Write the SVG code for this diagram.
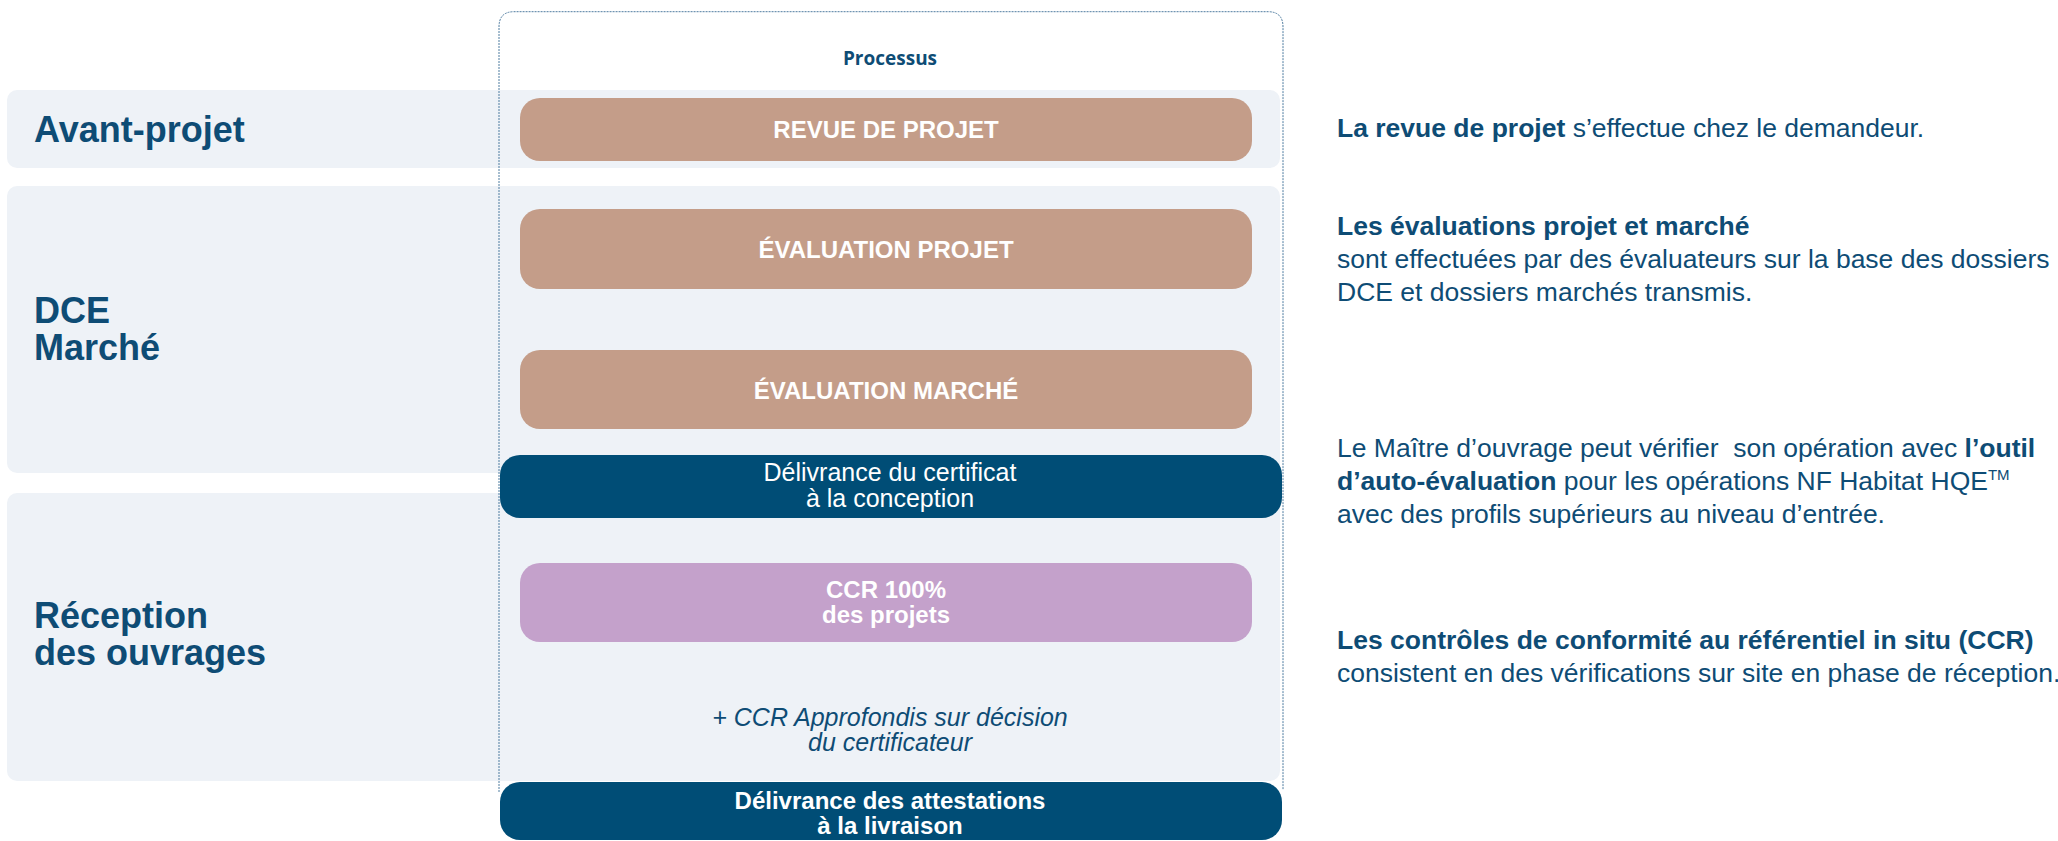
<svg xmlns="http://www.w3.org/2000/svg" width="2058" height="841" viewBox="0 0 2058 841">
<style>
.band{fill:#eef2f7}
.tan{fill:#c49d89}
.pur{fill:#c4a1cb}
.dark{fill:#004d76}
.lbl{font-family:"Liberation Sans",Arial,sans-serif;font-weight:bold;font-size:36px;fill:#0e4c75}
.bt{font-family:"Liberation Sans",Arial,sans-serif;font-weight:bold;font-size:24px;fill:#ffffff;text-anchor:middle}
.wt{font-family:"Liberation Sans",Arial,sans-serif;font-size:25px;fill:#ffffff;text-anchor:middle}
.it{font-family:"Liberation Sans",Arial,sans-serif;font-style:italic;font-size:25px;fill:#0e4c75;text-anchor:middle}
.rt{font-family:"Liberation Sans",Arial,sans-serif;font-size:26.5px;fill:#0e4c75;white-space:pre}
.b{font-weight:bold}
.proc{font-family:"Open Sans","Liberation Sans",sans-serif;font-weight:bold;font-size:19px;fill:#0e4c75;text-anchor:middle}
.cont{fill:none;stroke:#4f7ca0;stroke-width:1;stroke-dasharray:2 1}
</style>
<rect width="2058" height="841" fill="#ffffff"/>
<g id="bands">
<rect id="band-avant" class="band" x="7" y="90" width="1273" height="78" rx="10"/>
<rect id="band-dce" class="band" x="7" y="186" width="1273" height="287" rx="10"/>
<rect id="band-reception" class="band" x="7" y="493" width="1273" height="288" rx="10"/>
</g>
<g id="container">
<path class="cont" d="M499 792 V27 Q499 11.7 514 11.7 H1268 Q1283 11.7 1283 27 V790"/>
<text class="proc" x="890" y="65">Processus</text>
</g>
<g id="labels">
<text id="lbl-avant" class="lbl" x="34" y="142">Avant-projet</text>
<text id="lbl-dce" class="lbl" x="34" y="323">DCE<tspan x="34" y="360">Marché</tspan></text>
<text id="lbl-reception" class="lbl" x="34" y="628">Réception<tspan x="34" y="665">des ouvrages</tspan></text>
</g>
<g id="connectors"></g>
<g id="n-revue"><rect class="tan" x="520" y="98" width="732" height="63" rx="20"/><text class="bt" x="886" y="138">REVUE DE PROJET</text></g>
<g id="n-evalprojet"><rect class="tan" x="520" y="209" width="732" height="80" rx="20"/><text class="bt" x="886" y="258">ÉVALUATION PROJET</text></g>
<g id="n-evalmarche"><rect class="tan" x="520" y="350" width="732" height="79" rx="20"/><text class="bt" x="886" y="399">ÉVALUATION MARCHÉ</text></g>
<g id="n-certif"><rect class="dark" x="500" y="455" width="782" height="63" rx="20"/><text class="wt" x="890" y="481">Délivrance du certificat</text><text class="wt" x="890" y="507">à la conception</text></g>
<g id="n-ccr"><rect class="pur" x="520" y="563" width="732" height="79" rx="20"/><text class="bt" x="886" y="598">CCR 100%</text><text class="bt" x="886" y="623">des projets</text></g>
<g id="n-ccrplus"><text class="it" x="890" y="726">+ CCR Approfondis sur décision</text><text class="it" x="890" y="751">du certificateur</text></g>
<g id="n-attest"><rect class="dark" x="500" y="782" width="782" height="58" rx="20"/><text class="bt" x="890" y="809">Délivrance des attestations</text><text class="bt" x="890" y="834">à la livraison</text></g>
<g id="descriptions">
<text class="rt" x="1337" y="137"><tspan class="b">La revue de projet</tspan> s’effectue chez le demandeur.</text>
<text class="rt" x="1337" y="235"><tspan class="b">Les évaluations projet et marché</tspan></text>
<text class="rt" x="1337" y="268">sont effectuées par des évaluateurs sur la base des dossiers</text>
<text class="rt" x="1337" y="301">DCE et dossiers marchés transmis.</text>
<text class="rt" x="1337" y="457">Le Maître d’ouvrage peut vérifier  son opération avec <tspan class="b">l’outil</tspan></text>
<text class="rt" x="1337" y="490"><tspan class="b">d’auto-évaluation</tspan> pour les opérations NF Habitat HQE<tspan font-size="15" dy="-10">TM</tspan></text>
<text class="rt" x="1337" y="523">avec des profils supérieurs au niveau d’entrée.</text>
<text class="rt" x="1337" y="649"><tspan class="b">Les contrôles de conformité au référentiel in situ (CCR)</tspan></text>
<text class="rt" x="1337" y="682">consistent en des vérifications sur site en phase de réception.</text>
</g>
</svg>
